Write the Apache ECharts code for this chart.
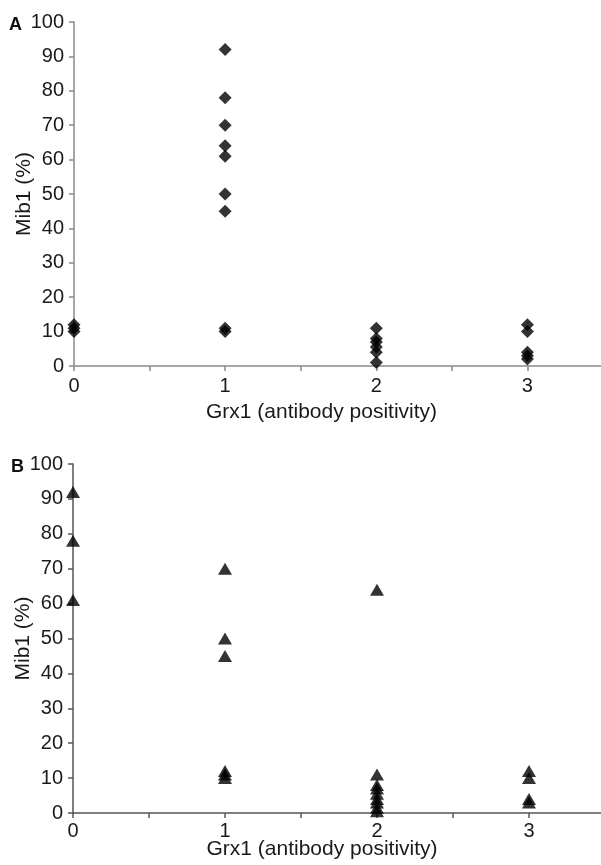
<!DOCTYPE html>
<html>
<head>
<meta charset="utf-8">
<script src="https://cdn.jsdelivr.net/npm/echarts@6/dist/echarts.min.js"></script>
<style>
    html, body { margin: 0; padding: 0; background: #fff; }
    #chart { width: 601px; height: 865px; }
</style>
</head>
<body>
<div id="chart"></div>
<script>
    // panel A: Mib1 vs Grx1 antibody positivity (diamonds)
    var pointsA = [
        [0, 12], [0, 11], [0, 10],
        [1, 92], [1, 78], [1, 70], [1, 64], [1, 61], [1, 50], [1, 45], [1, 11], [1, 10],
        [2, 11], [2, 8], [2, 7], [2, 5.5], [2, 4], [2, 1],
        [3, 12], [3, 10], [3, 4], [3, 3], [3, 2]
    ];
    // panel B: same axes (triangles)
    var pointsB = [
        [0, 92], [0, 78], [0, 61],
        [1, 70], [1, 50], [1, 45], [1, 12], [1, 11], [1, 10],
        [2, 64], [2, 11], [2, 8], [2, 7], [2, 5.5], [2, 4], [2, 3], [2, 1.5], [2, 0.5],
        [3, 12], [3, 10], [3, 4], [3, 3]
    ];
    var panelLabels = ['A', 'B'];
    var xName = 'Grx1 (antibody positivity)';
    var yName = 'Mib1 (%)';

    var font = 'Liberation Sans, Arial, sans-serif';
    var textColor = '#1a1a1a';

    function xAxisFor(idx, lineColor, labelMargin, nameGap) {
        return {
            type: 'value', gridIndex: idx, min: 0, max: 3.5, interval: 0.5,
            name: xName, nameLocation: 'middle', nameGap: nameGap, nameMoveOverlap: false,
            nameTextStyle: { fontSize: 21, color: textColor, fontFamily: font, padding: [0, 34, 0, 0] },
            axisLine: { show: true, lineStyle: { color: lineColor, width: 1.5 } },
            axisTick: { show: true, inside: false, length: 5, lineStyle: { color: lineColor, width: 1.5 } },
            axisLabel: {
                fontSize: 20, color: textColor, fontFamily: font, margin: labelMargin,
                formatter: function (v) { return v % 1 === 0 && v < 3.5 ? String(v) : ''; }
            },
            splitLine: { show: false }
        };
    }

    function yAxisFor(idx, lineColor) {
        return {
            type: 'value', gridIndex: idx, min: 0, max: 100, interval: 10,
            name: yName, nameLocation: 'middle', nameGap: 39, nameRotate: 90, nameMoveOverlap: false,
            nameTextStyle: { fontSize: 21, color: textColor, fontFamily: font },
            axisLine: { show: true, lineStyle: { color: lineColor, width: 1.5 } },
            axisTick: { show: true, inside: false, length: 5, lineStyle: { color: lineColor, width: 1.5 } },
            axisLabel: { fontSize: 20, color: textColor, fontFamily: font, margin: 10 },
            splitLine: { show: false }
        };
    }

    var chart = echarts.init(document.getElementById('chart'), null, { renderer: 'canvas' });

    var option = {
        animation: false,
        backgroundColor: '#fff',
        title: [
            { text: panelLabels[0], left: 4, top: 11, textStyle: { fontSize: 18, fontWeight: 'bold', color: '#111', fontFamily: font } },
            { text: panelLabels[1], left: 6, top: 453, textStyle: { fontSize: 18, fontWeight: 'bold', color: '#111', fontFamily: font } }
        ],
        grid: [
            { left: 74, top: 22, width: 529, height: 344, outerBoundsMode: 'none', containLabel: false },
            { left: 73, top: 464, width: 532, height: 349, outerBoundsMode: 'none', containLabel: false }
        ],
        xAxis: [xAxisFor(0, '#8a8a8a', 10, 36), xAxisFor(1, '#555', 8, 26)],
        yAxis: [yAxisFor(0, '#8a8a8a'), yAxisFor(1, '#555')],
        series: [
            {
                type: 'scatter', xAxisIndex: 0, yAxisIndex: 0,
                symbol: 'diamond', symbolSize: [13, 13],
                itemStyle: { color: '#000' },
                data: pointsA
            },
            {
                type: 'scatter', xAxisIndex: 1, yAxisIndex: 1,
                symbol: 'triangle', symbolSize: [14, 12],
                itemStyle: { color: '#000' },
                data: pointsB
            }
        ]
    };
    chart.setOption(option);
</script>
</body>
</html>
